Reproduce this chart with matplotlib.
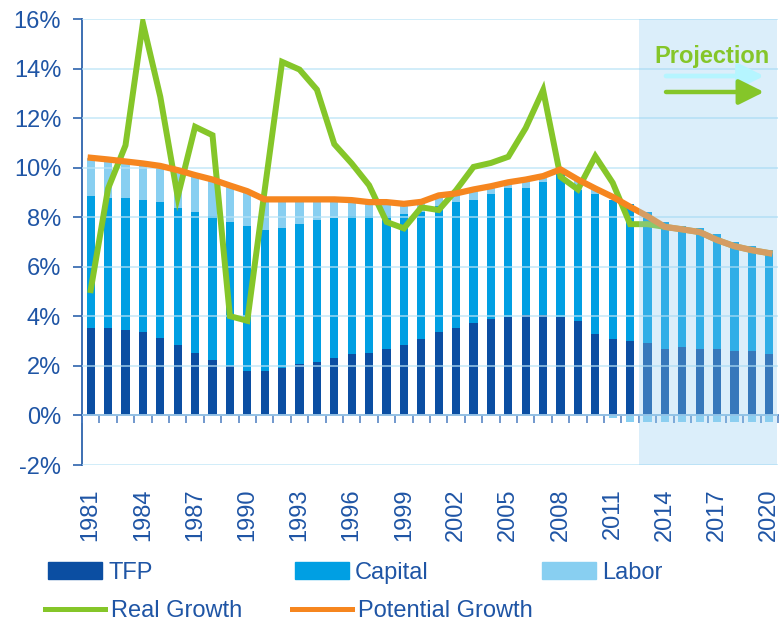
import numpy as np
import matplotlib
matplotlib.use("Agg")
import matplotlib.pyplot as plt
from matplotlib.patches import Patch
from matplotlib.lines import Line2D

plt.rcParams['font.family'] = ['Liberation Sans', 'DejaVu Sans']

# Data (% contribution to growth)
years = list(range(1981, 2021))
tfp = [3.52, 3.52, 3.43, 3.35, 3.12, 2.86, 2.54, 2.22, 1.98, 1.81,
       1.81, 1.90, 2.06, 2.14, 2.30, 2.46, 2.54, 2.70, 2.86, 3.10,
       3.35, 3.51, 3.75, 3.91, 3.99, 4.07, 4.07, 3.99, 3.83, 3.27,
       3.10, 3.02, 2.94, 2.70, 2.78, 2.70, 2.70, 2.62, 2.62, 2.46]
capital = [5.33, 5.25, 5.34, 5.34, 5.49, 5.51, 5.67, 5.82, 5.82, 5.83,
           5.67, 5.66, 5.66, 5.74, 5.66, 5.58, 5.50, 5.34, 5.27, 5.10,
           5.10, 5.10, 4.94, 5.02, 5.18, 5.10, 5.34, 5.78, 5.27, 5.66,
           5.59, 5.51, 5.26, 5.10, 4.86, 4.86, 4.62, 4.38, 4.21, 4.21]
labor = [1.55, 1.56, 1.48, 1.48, 1.46, 1.53, 1.49, 1.48, 1.48, 1.41,
         1.24, 1.16, 1.00, 0.84, 0.76, 0.65, 0.57, 0.57, 0.41, 0.42,
         0.43, 0.35, 0.43, 0.32, 0.24, 0.35, 0.25, 0.16, 0.42, 0.23,
         -0.10, -0.27, -0.27, -0.27, -0.27, -0.27, -0.27, -0.27, -0.27, -0.27]
real_growth = [5.06, 9.16, 10.90, 15.84, 12.86, 8.82, 11.65, 11.31, 4.01, 3.82,
               9.10, 14.27, 13.96, 13.15, 10.95, 10.17, 9.29, 7.81, 7.55, 8.40,
               8.29, 9.09, 10.03, 10.19, 10.44, 11.60, 13.13, 9.63, 9.12, 10.46,
               9.39, 7.72, 7.72, 7.61, 7.51, 7.40, 7.08, 6.83, 6.67, 6.55]
potential = [10.40, 10.33, 10.25, 10.17, 10.07, 9.90, 9.70, 9.52, 9.28, 9.05,
             8.72, 8.72, 8.72, 8.72, 8.72, 8.69, 8.61, 8.61, 8.54, 8.62,
             8.88, 8.96, 9.12, 9.25, 9.41, 9.52, 9.66, 9.93, 9.52, 9.16,
             8.82, 8.42, 8.04, 7.61, 7.51, 7.40, 7.08, 6.83, 6.67, 6.55]
projection_start = 2013

c_tfp = '#0b4ea2'
c_cap = '#009fe3'
c_lab = '#88cff1'
c_green = '#85c629'
c_orange = '#f6861f'
c_text = '#1f55a5'
c_grid = '#b9e3f6'

x = np.arange(len(years))
tfp_a = np.array(tfp)
cap_a = np.array(capital)
lab_a = np.array(labor)
lab_bottom = np.where(lab_a >= 0, tfp_a + cap_a, 0)

fig = plt.figure(figsize=(7.81, 6.23), dpi=100)
ax = fig.add_axes([82 / 781, 1 - 465 / 623, 696 / 781, 446 / 623])

w = 0.47
ax.bar(x, tfp_a, w, color=c_tfp, zorder=2)
ax.bar(x, cap_a, w, bottom=tfp_a, color=c_cap, zorder=2)
ax.bar(x, lab_a, w, bottom=lab_bottom, color=c_lab, zorder=2)

ax.plot(x, real_growth, color=c_green, lw=4.3, zorder=3, solid_joinstyle='miter')
ax.plot(x, potential, color=c_orange, lw=4.5, zorder=3.1)

# projection shading over everything
p0 = years.index(projection_start) - 0.5
ax.axvspan(p0, len(years) - 0.55, color=(146 / 255, 206 / 255, 240 / 255), alpha=0.33,
           lw=0, zorder=4)

ax.set_xlim(-0.5, len(years) - 0.5)
ax.set_ylim(-2, 16)
ax.set_yticks(np.arange(-2, 17, 2))
ax.set_yticklabels([f'{v}%' for v in range(-2, 17, 2)])
ax.yaxis.grid(True, color=c_grid, lw=1.3, alpha=0.7)
ax.set_axisbelow(False)

for s in ['top', 'right']:
    ax.spines[s].set_visible(False)
ax.spines['left'].set_color('#2d63ad')
ax.spines['left'].set_linewidth(1.3)
ax.spines['bottom'].set_position(('data', 0))
ax.spines['bottom'].set_color('#4a7cc0')
ax.spines['bottom'].set_linewidth(1.3)

ax.tick_params(axis='y', direction='out', length=6.5, width=1.2, color='#2d63ad',
               labelsize=17, labelcolor=c_text, pad=8.5)
ax.set_xticks(x[::3])
ax.set_xticklabels([str(y) for y in years[::3]], rotation=90)
ax.set_xticks(np.arange(-0.5, len(years), 1), minor=True)
ax.tick_params(axis='x', which='major', length=0, labelsize=17, labelcolor=c_text, pad=52.5)
ax.tick_params(axis='x', which='minor', direction='out', length=6, width=1.1, color='#4a7cc0')

# Projection label and arrows
fig.text(712 / 781, 1 - 57 / 623, 'Projection', color=c_green, fontsize=17,
         fontweight='bold', ha='center', va='center', zorder=6)
ax.annotate('', xy=(764 / 781, 1 - 76 / 623), xytext=(666 / 781, 1 - 76 / 623),
            xycoords='figure fraction', textcoords='figure fraction',
            arrowprops=dict(arrowstyle='-|>,head_length=0.9,head_width=0.45',
                            lw=3.4, color='#b5f5ff', mutation_scale=17,
                            shrinkA=0, shrinkB=0), zorder=6)
ax.annotate('', xy=(764 / 781, 1 - 92 / 623), xytext=(666 / 781, 1 - 92 / 623),
            xycoords='figure fraction', textcoords='figure fraction',
            arrowprops=dict(arrowstyle='-|>,head_length=0.9,head_width=0.45',
                            lw=3.2, color=c_green, mutation_scale=17,
                            shrinkA=0, shrinkB=0), zorder=6)

# Legend entries
entries = [
    (Patch(color=c_tfp), 'TFP', 48, 573, 2.3),
    (Patch(color=c_cap), 'Capital', 295, 573, 2.3),
    (Patch(color=c_lab), 'Labor', 542, 573, 2.3),
    (Line2D([], [], color=c_green, lw=3.6), 'Real Growth', 45, 611, 2.55),
    (Line2D([], [], color=c_orange, lw=3.6), 'Potential Growth', 292, 611, 2.55),
]
for h, lab, px, py, hl in entries:
    leg = fig.legend(handles=[h], labels=[lab], loc='center left',
                     bbox_to_anchor=(px / 781, 1 - py / 623), frameon=False,
                     fontsize=17, handlelength=hl, handletextpad=0.25,
                     borderpad=0, borderaxespad=0)
    for t in leg.get_texts():
        t.set_color(c_text)

fig.savefig('out.png', dpi=100)
